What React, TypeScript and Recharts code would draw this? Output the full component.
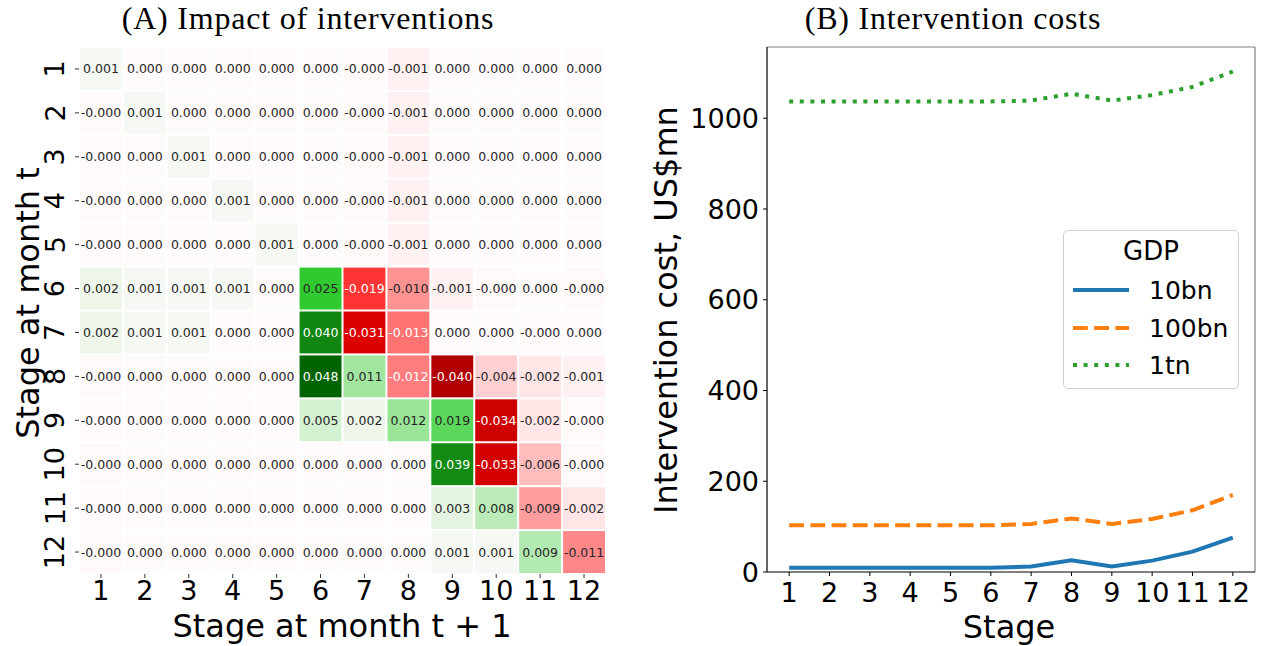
import React from 'react';
import { Legend, Line, LineChart, ReferenceLine, Scatter, ScatterChart, XAxis, YAxis } from 'recharts';

// (A) heatmap: stage at month t (rows) -> stage at month t + 1 (columns)
const stages = [1, 2, 3, 4, 5, 6, 7, 8, 9, 10, 11, 12];
const row1 = [0.001, 0.0, 0.0, 0.0, 0.0, 0.0, -0.0001, -0.001, 0.0, 0.0, 0.0, 0.0];
const row2 = [-0.0001, 0.001, 0.0, 0.0, 0.0, 0.0, -0.0001, -0.001, 0.0, 0.0, 0.0, 0.0];
const row3 = [-0.0001, 0.0, 0.001, 0.0, 0.0, 0.0, -0.0001, -0.001, 0.0, 0.0, 0.0, 0.0];
const row4 = [-0.0001, 0.0, 0.0, 0.001, 0.0, 0.0, -0.0001, -0.001, 0.0, 0.0, 0.0, 0.0];
const row5 = [-0.0001, 0.0, 0.0, 0.0, 0.001, 0.0, -0.0001, -0.001, 0.0, 0.0, 0.0, 0.0];
const row6 = [0.002, 0.001, 0.001, 0.001, 0.0, 0.025, -0.019, -0.01, -0.001, -0.0001, 0.0, -0.0001];
const row7 = [0.002, 0.001, 0.001, 0.0, 0.0, 0.04, -0.031, -0.013, 0.0, 0.0, -0.0001, 0.0];
const row8 = [-0.0001, 0.0, 0.0, 0.0, 0.0, 0.048, 0.011, -0.012, -0.04, -0.004, -0.002, -0.001];
const row9 = [-0.0001, 0.0, 0.0, 0.0, 0.0, 0.005, 0.002, 0.012, 0.019, -0.034, -0.002, -0.0001];
const row10 = [-0.0001, 0.0, 0.0, 0.0, 0.0, 0.0, 0.0, 0.0, 0.039, -0.033, -0.006, -0.0001];
const row11 = [-0.0001, 0.0, 0.0, 0.0, 0.0, 0.0, 0.0, 0.0, 0.003, 0.008, -0.009, -0.002];
const row12 = [-0.0001, 0.0, 0.0, 0.0, 0.0, 0.0, 0.0, 0.0, 0.001, 0.001, 0.009, -0.011];
const impactRows = [row1, row2, row3, row4, row5, row6, row7, row8, row9, row10, row11, row12];

// (B) intervention costs, US$mn
const cost10bn = [9.5, 9.5, 9.5, 9.5, 9.5, 9.5, 12, 26, 12, 25, 45, 76];
const cost100bn = [103, 103, 103, 103, 103, 103, 106, 118, 106, 117, 136, 170];
const cost1tn = [1037, 1037, 1037, 1037, 1037, 1037, 1039, 1054, 1039, 1051, 1069, 1103];
const costTicks = [0, 200, 400, 600, 800, 1000];

const cells = impactRows.flatMap((row, i) =>
  row.map((v, j) => ({ x: stages[j], y: stages[i], v })),
);
const costData = stages.map((s, i) => ({
  stage: s,
  gdp10bn: cost10bn[i],
  gdp100bn: cost100bn[i],
  gdp1tn: cost1tn[i],
}));

const SANS = 'DejaVu Sans, sans-serif';
const SERIF = 'Liberation Serif, serif';

// diverging map: darkred -> red -> (near) white -> limegreen -> darkgreen
const cmapStops: [number, number[]][] = [
  [-0.048, [139, 0, 0]],
  [-0.024, [255, 0, 0]],
  [0, [255, 250, 251]],
  [0.024, [50, 205, 50]],
  [0.048, [0, 100, 0]],
];

function cellRgb(v: number) {
  const c = Math.max(-0.048, Math.min(0.048, v));
  for (let k = 0; k < cmapStops.length - 1; k++) {
    const [a, ca] = cmapStops[k];
    const [b, cb] = cmapStops[k + 1];
    if (c >= a && c <= b) {
      const t = (c - a) / (b - a);
      return ca.map((x, n) => Math.round(x + (cb[n] - x) * t));
    }
  }
  return [255, 255, 255];
}

function textColor(rgb: number[]) {
  const lin = rgb.map((x) => {
    const s = x / 255;
    return s <= 0.03928 ? s / 12.92 : Math.pow((s + 0.055) / 1.055, 2.4);
  });
  const lum = 0.2126 * lin[0] + 0.7152 * lin[1] + 0.0722 * lin[2];
  return lum < 0.39 ? '#ffffff' : '#262626';
}

const HEAT_PLOT = 527;
const CELL = HEAT_PLOT / 12;

const HeatCell = (props: any) => {
  const { cx, cy, payload } = props;
  const rgb = cellRgb(payload.v);
  return (
    <g>
      <rect
        x={cx - CELL / 2 + 1}
        y={cy - CELL / 2 + 1}
        width={CELL - 2}
        height={CELL - 2}
        fill={`rgb(${rgb.join(',')})`}
      />
      <text
        x={cx}
        y={cy}
        textAnchor="middle"
        dominantBaseline="central"
        fontSize={12.5}
        fontFamily={SANS}
        fill={textColor(rgb)}
      >
        {payload.v.toFixed(3)}
      </text>
    </g>
  );
};

const HeatYTick = (props: any) => {
  const { x, y, payload } = props;
  const tx = x - 18;
  return (
    <text
      x={tx}
      y={y}
      transform={`rotate(-90, ${tx}, ${y})`}
      textAnchor="middle"
      dominantBaseline="central"
      fontSize={27}
      fontFamily={SANS}
      fill="#000"
    >
      {payload.value}
    </text>
  );
};

const legendItems = [
  { label: '10bn', color: '#1f77b4', dash: undefined },
  { label: '100bn', color: '#ff7f0e', dash: '14.8 6.4' },
  { label: '1tn', color: '#2ca02c', dash: '4 6.6' },
];

const CostLegend = () => (
  <div
    style={{
      position: 'relative',
      width: 176,
      height: 159,
      boxSizing: 'border-box',
      border: '1px solid #d0d0d0',
      borderRadius: 5,
      background: 'rgba(255,255,255,0.8)',
      fontFamily: SANS,
      color: '#000',
    }}
  >
    <div style={{ position: 'absolute', left: 0, right: 0, top: 20, transform: 'translateY(-50%)', textAlign: 'center', fontSize: 26, lineHeight: 1 }}>
      GDP
    </div>
    {legendItems.map((it, i) => (
      <div key={it.label} style={{ position: 'absolute', left: 0, top: 59 + i * 37.5, transform: 'translateY(-50%)', height: 30, width: 176 }}>
        <svg width={70} height={30} style={{ position: 'absolute', left: 0, top: 0 }}>
          <line x1={9} x2={65} y1={15} y2={15} stroke={it.color} strokeWidth={4} strokeDasharray={it.dash} />
        </svg>
        <span style={{ position: 'absolute', left: 85, top: 15, transform: 'translateY(-50%)', fontSize: 25, lineHeight: 1, whiteSpace: 'nowrap' }}>
          {it.label}
        </span>
      </div>
    ))}
  </div>
);

const labelStyle: React.CSSProperties = {
  position: 'absolute',
  fontFamily: SANS,
  fontSize: 32,
  lineHeight: 1,
  whiteSpace: 'nowrap',
  color: '#000',
};

const titleStyle: React.CSSProperties = {
  position: 'absolute',
  top: 2,
  transform: 'translateX(-50%)',
  fontFamily: SERIF,
  fontSize: 32,
  letterSpacing: 0.8,
  lineHeight: 1,
  whiteSpace: 'nowrap',
  color: '#000',
};

export default function App() {
  return (
    <div style={{ position: 'absolute', left: 0, top: 0, width: 1263, height: 646, background: '#fff', overflow: 'hidden' }}>
      <div style={{ position: 'absolute', left: 0, top: 0 }}>
        <ScatterChart width={620} height={646} margin={{ top: 47, right: 14, bottom: 32, left: 29 }}>
          <XAxis
            dataKey="x"
            type="number"
            domain={[0.5, 12.5]}
            ticks={stages}
            interval={0}
            axisLine={false}
            tickSize={4}
            tickMargin={3}
            height={40}
            tickLine={{ stroke: '#333' }}
            tick={{ fontSize: 27, fontFamily: SANS, fill: '#000' }}
          />
          <YAxis
            dataKey="y"
            type="number"
            domain={[0.5, 12.5]}
            reversed
            ticks={stages}
            interval={0}
            axisLine={false}
            tickSize={4}
            tickMargin={2}
            width={50}
            tickLine={{ stroke: '#333' }}
            tick={<HeatYTick />}
          />
          <Scatter data={cells} shape={<HeatCell />} isAnimationActive={false} />
        </ScatterChart>
      </div>
      <div style={{ position: 'absolute', left: 620, top: 0 }}>
        <LineChart width={643} height={646} data={costData} margin={{ top: 47, right: 8, bottom: 34, left: 67 }}>
          <XAxis
            dataKey="stage"
            type="number"
            domain={[0.45, 12.55]}
            ticks={stages}
            interval={0}
            allowDataOverflow
            height={40}
            tickSize={4}
            tickMargin={7}
            axisLine={{ stroke: '#000', strokeWidth: 1.2 }}
            tickLine={{ stroke: '#000' }}
            tick={{ fontSize: 27, fontFamily: SANS, fill: '#000' }}
          />
          <YAxis
            type="number"
            domain={[0, 1157]}
            ticks={costTicks}
            interval={0}
            allowDataOverflow
            width={80}
            tickSize={4}
            tickMargin={4}
            axisLine={{ stroke: '#000', strokeWidth: 1.2 }}
            tickLine={{ stroke: '#000' }}
            tick={{ fontSize: 27, fontFamily: SANS, fill: '#000' }}
          />
          <ReferenceLine y={1157} stroke="#808080" strokeWidth={1.2} />
          <ReferenceLine x={12.55} stroke="#808080" strokeWidth={1.2} />
          <Line type="linear" dataKey="gdp10bn" stroke="#1f77b4" strokeWidth={4} dot={false} isAnimationActive={false} />
          <Line type="linear" dataKey="gdp100bn" stroke="#ff7f0e" strokeWidth={4} strokeDasharray="14.8 6.4" dot={false} isAnimationActive={false} />
          <Line type="linear" dataKey="gdp1tn" stroke="#2ca02c" strokeWidth={4} strokeDasharray="4 6.6" dot={false} isAnimationActive={false} />
          <Legend
            layout="vertical"
            align="center"
            verticalAlign="middle"
            content={<CostLegend />}
            wrapperStyle={{ position: 'absolute', left: 443, top: 230, width: 176, height: 159 }}
          />
        </LineChart>
      </div>

      <div style={{ ...titleStyle, left: 308 }}>(A) Impact of interventions</div>
      <div style={{ ...titleStyle, left: 953 }}>(B) Intervention costs</div>
      <div style={{ ...labelStyle, left: 342, top: 626, transform: 'translate(-50%, -50%)' }}>Stage at month t + 1</div>
      <div style={{ ...labelStyle, left: 28, top: 303, transform: 'translate(-50%, -50%) rotate(-90deg)' }}>Stage at month t</div>
      <div style={{ ...labelStyle, left: 1009, top: 627, transform: 'translate(-50%, -50%)' }}>Stage</div>
      <div style={{ ...labelStyle, left: 666, top: 310, transform: 'translate(-50%, -50%) rotate(-90deg)' }}>Intervention cost, US$mn</div>
    </div>
  );
}
